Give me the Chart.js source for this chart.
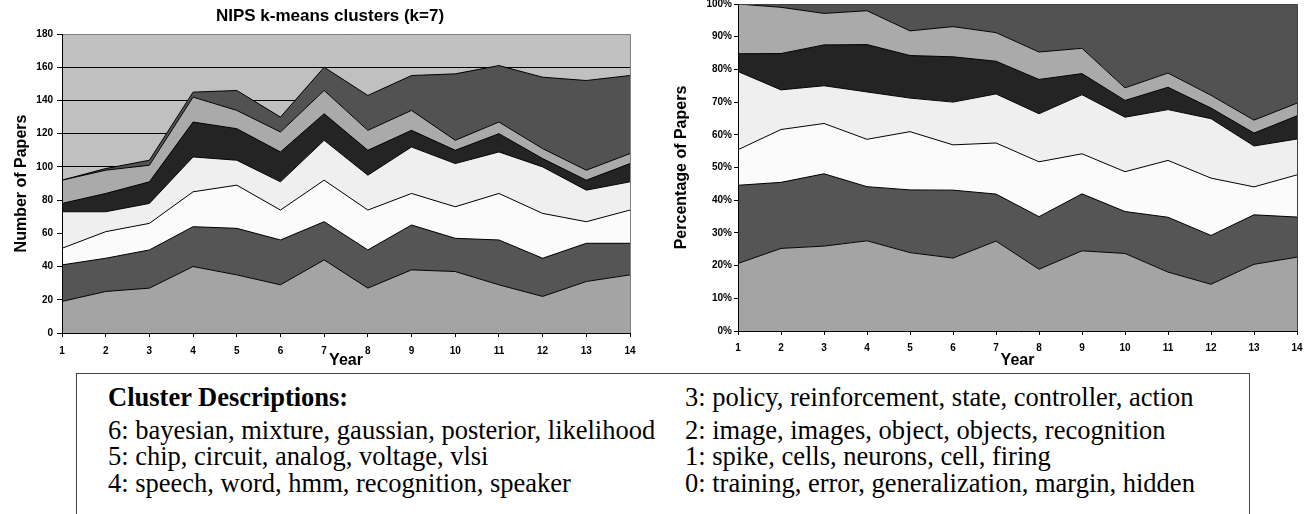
<!DOCTYPE html>
<html>
<head>
<meta charset="utf-8">
<script src="https://cdn.jsdelivr.net/npm/chart.js@4"></script>
<style>
body { margin: 0; background: #fff; width: 1304px; height: 514px; overflow: hidden; position: relative; }
#left { position: absolute; left: 0; top: 0; }
#right { position: absolute; left: 660px; top: 0; }
#desc { position: absolute; left: 76px; top: 373px; width: 1172px; height: 160px; border: 1px solid #444;
        font-family: "Liberation Serif", "Times New Roman", serif; font-size: 26.5px; color: #000; }
.col { position: absolute; top: 10px; line-height: 26.5px; white-space: nowrap; }
.col div:first-child { margin-bottom: 6px; }
</style>
</head>
<body>
<canvas id="left" width="660" height="368"></canvas>
<canvas id="right" width="644" height="368"></canvas>
<div id="desc">
  <div class="col" style="left:31px">
    <div><b>Cluster Descriptions:</b></div>
    <div>6: bayesian, mixture, gaussian, posterior, likelihood</div>
    <div>5: chip, circuit, analog, voltage, vlsi</div>
    <div>4: speech, word, hmm, recognition, speaker</div>
  </div>
  <div class="col" style="left:608px">
    <div>3: policy, reinforcement, state, controller, action</div>
    <div>2: image, images, object, objects, recognition</div>
    <div>1: spike, cells, neurons, cell, firing</div>
    <div>0: training, error, generalization, margin, hidden</div>
  </div>
</div>
<script>
// papers per cluster and year (bottom layer first)
var years = ['1', '2', '3', '4', '5', '6', '7', '8', '9', '10', '11', '12', '13', '14'];
var c0 = [19, 25, 27, 40, 35, 29, 44, 27, 38, 37, 29, 22, 31, 35];
var c1 = [22, 20, 23, 24, 28, 27, 23, 23, 27, 20, 27, 23, 23, 19];
var c2 = [10, 16, 16, 21, 26, 18, 25, 24, 19, 19, 28, 27, 13, 20];
var c3 = [22, 12, 12, 21, 15, 17, 24, 21, 28, 26, 25, 28, 19, 17];
var c4 = [5, 11, 13, 21, 19, 18, 16, 15, 10, 8, 11, 5, 6, 11];
var c5 = [14, 14, 10, 15, 11, 12, 14, 12, 12, 6, 7, 6, 6, 6];
var c6 = [0, 1, 3, 3, 12, 9, 14, 21, 21, 40, 34, 43, 54, 47];

var clusters = [c0, c1, c2, c3, c4, c5, c6];
var fills = ['#a4a4a4', '#555555', '#fbfbfb', '#efefef', '#242424', '#aaaaaa', '#525252'];
var FONT = '"Liberation Sans", Arial, sans-serif';

// 100% stacked: each cluster as a share of that year's total
var totals = years.map((y, i) => clusters.reduce((s, c) => s + c[i], 0));
var share = c => c.map((v, i) => v / totals[i] * 100);

var makeSets = (getData) => clusters.map((c, k) => ({
    label: 'Cluster ' + k,
    data: getData(c),
    fill: k === 0 ? 'origin' : '-1',
    backgroundColor: fills[k],
    borderColor: '#000',
    borderWidth: 1,
    pointRadius: 0,
    tension: 0
}));

// plot background + frame (Excel style)
var framePlugin = {
    id: 'frame',
    beforeDraw(chart, args, opts) {
        var a = chart.chartArea, g = chart.ctx;
        if (opts.bg) {
            g.save();
            g.fillStyle = opts.bg;
            g.fillRect(a.left, a.top, a.right - a.left, a.bottom - a.top);
            g.restore();
        }
    },
    afterDatasetsDraw(chart, args, opts) {
        var a = chart.chartArea, g = chart.ctx;
        g.save();
        g.lineWidth = 1;
        g.strokeStyle = opts.edge;
        g.beginPath();
        g.moveTo(a.left, a.top + 0.5); g.lineTo(a.right + 0.5, a.top + 0.5); g.lineTo(a.right + 0.5, a.bottom);
        g.stroke();
        g.strokeStyle = '#000';
        g.beginPath();
        g.moveTo(a.left + 0.5, a.top); g.lineTo(a.left + 0.5, a.bottom + 0.5); g.lineTo(a.right + 1, a.bottom + 0.5);
        g.stroke();
        g.restore();
    }
};

var xScale = (h, pad) => ({
    type: 'category',
    offset: false,
    grid: { drawOnChartArea: false, tickLength: 4, color: '#000' },
    border: { display: false },
    ticks: { font: { family: FONT, size: 10, weight: 'bold' }, color: '#000', padding: pad, maxRotation: 0, autoSkip: false },
    title: { display: true, text: 'Year', color: '#000', font: { family: FONT, size: 16, weight: 'bold', lineHeight: 0.9 }, padding: 0 },
    afterFit: s => { s.height = h; s.paddingLeft = 0; s.paddingRight = 0; }
});

var yScale = (w, max, step, tl, pad, tpad, text, cb, grid) => ({
    stacked: true,
    min: 0,
    max: max,
    grid: { color: '#000', tickLength: tl, drawOnChartArea: grid },
    border: { display: false },
    ticks: { stepSize: step, font: { family: FONT, size: 10, weight: 'bold' }, color: '#000', padding: pad, callback: cb },
    title: { display: true, text: text, color: '#000', font: { family: FONT, size: 16, weight: 'bold' }, padding: { top: tpad, bottom: 0 } },
    afterFit: s => { s.width = w; s.paddingTop = 0; s.paddingBottom = 0; }
});

// empty right-hand spacer so the title centres on the whole canvas
var spacer = (w) => ({
    position: 'right',
    grid: { display: false },
    border: { display: false },
    ticks: { display: false },
    afterFit: s => { s.width = w; s.paddingTop = 0; s.paddingBottom = 0; }
});

new Chart(document.getElementById('left'), {
    type: 'line',
    data: { labels: years, datasets: makeSets(c => c) },
    options: {
        responsive: false,
        animation: false,
        layout: { padding: 0 },
        plugins: {
            legend: { display: false },
            tooltip: { enabled: false },
            title: { display: true, text: 'NIPS k-means clusters (k=7)', color: '#000',
                     font: { family: FONT, size: 17, weight: 'bold' }, padding: { top: 6.5, bottom: 7.1 } },
            frame: { bg: '#c0c0c0', edge: '#808080' }
        },
        scales: {
            x: xScale(35, 8),
            y: yScale(62, 180, 20, 5, 4, 12, 'Number of Papers', v => v, true),
            pad: spacer(30)
        }
    },
    plugins: [framePlugin]
});

new Chart(document.getElementById('right'), {
    type: 'line',
    data: { labels: years, datasets: makeSets(share) },
    options: {
        responsive: false,
        animation: false,
        layout: { padding: { left: 0, right: 7, top: 4, bottom: 0 } },
        plugins: {
            legend: { display: false },
            tooltip: { enabled: false },
            frame: { bg: null, edge: '#404040' }
        },
        scales: {
            x: xScale(37, 7),
            y: yScale(78, 100, 10, 4, 2, 12, 'Percentage of Papers', v => v + '%', false)
        }
    },
    plugins: [framePlugin]
});
</script>
</body>
</html>
